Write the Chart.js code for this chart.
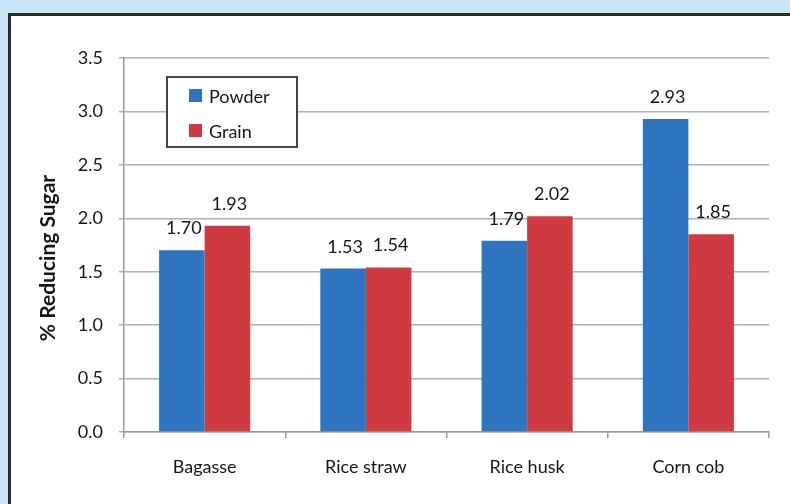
<!DOCTYPE html>
<html>
<head>
<meta charset="utf-8">
<script src="https://cdn.jsdelivr.net/npm/chart.js@4/dist/chart.umd.min.js"></script>
<style>
  html, body { margin: 0; padding: 0; width: 790px; height: 504px; overflow: hidden; background: #c8e6f7; }
  #panel { position: absolute; left: 8px; top: 13px; width: 800px; height: 520px; background: #fff; border: 3px solid #2a2a2a; box-sizing: border-box; }
  #wrap { position: absolute; left: 0; top: 0; width: 790px; height: 504px; }
</style>
</head>
<body>
<div id="panel"></div>
<div id="wrap"><canvas id="c" width="790" height="504"></canvas></div>
<script>
const categories = ["Bagasse", "Rice straw", "Rice husk", "Corn cob"];
const powderValues = [1.70, 1.53, 1.79, 2.93];
const grainValues = [1.93, 1.54, 2.02, 1.85];
const seriesNames = ["Powder", "Grain"];
const yTickValues = [0, 0.5, 1.0, 1.5, 2.0, 2.5, 3.0, 3.5];
const yTitle = "% Reducing Sugar";

const FONT = "Lato, 'Liberation Sans', sans-serif";
const TEXT = "#161616";

const valueLabels = {
  id: "valueLabels",
  afterDatasetsDraw(chart) {
    const ctx = chart.ctx;
    ctx.save();
    ctx.font = "18px " + FONT;
    ctx.fillStyle = TEXT;
    ctx.textAlign = "center";
    ctx.textBaseline = "alphabetic";
    chart.data.datasets.forEach((ds, di) => {
      chart.getDatasetMeta(di).data.forEach((bar, i) => {
        ctx.fillText(ds.data[i].toFixed(2), bar.x + 2, bar.y - 16);
      });
    });
    ctx.restore();
  }
};

const boxLegend = {
  id: "boxLegend",
  afterDraw(chart) {
    const ctx = chart.ctx;
    ctx.save();
    ctx.fillStyle = "#fff";
    ctx.fillRect(167, 77, 130, 70);
    ctx.strokeStyle = "#444";
    ctx.lineWidth = 2;
    ctx.strokeRect(167, 77, 130, 70);
    ctx.font = "18px " + FONT;
    ctx.textBaseline = "middle";
    ctx.textAlign = "left";
    chart.data.datasets.forEach((ds, i) => {
      const cy = 96 + i * 35;
      ctx.fillStyle = ds.backgroundColor;
      ctx.fillRect(189, cy - 7, 13, 13);
      ctx.fillStyle = TEXT;
      ctx.fillText(ds.label, 209, cy + 1);
    });
    // y title
    ctx.translate(48, 258);
    ctx.rotate(-Math.PI / 2);
    ctx.textAlign = "center";
    ctx.textBaseline = "middle";
    ctx.font = "bold 21px " + FONT;
    ctx.fillStyle = TEXT;
    ctx.fillText(yTitle, 0, 0);
    ctx.restore();
  }
};

new Chart(document.getElementById("c"), {
  type: "bar",
  data: {
    labels: categories,
    datasets: [
      { label: seriesNames[0], data: powderValues, backgroundColor: "#2f74bf", borderWidth: 0 },
      { label: seriesNames[1], data: grainValues, backgroundColor: "#cf3a41", borderWidth: 0 }
    ]
  },
  options: {
    responsive: false,
    animation: false,
    layout: { padding: { top: 58, right: 21, left: 0, bottom: 0 } },
    datasets: { bar: { categoryPercentage: 0.565, barPercentage: 1.0 } },
    plugins: { legend: { display: false }, tooltip: { enabled: false } },
    scales: {
      x: {
        afterFit(s) { s.height = 72; },
        grid: { display: true, drawOnChartArea: false, offset: true, color: "#999", lineWidth: 1.5, tickLength: 6 },
        border: { display: true, color: "#999", width: 1.5 },
        ticks: { color: TEXT, font: { family: FONT, size: 18 }, padding: 18 }
      },
      y: {
        min: 0, max: 3.5,
        afterFit(s) { s.width = 124; },
        afterBuildTicks(s) { s.ticks = yTickValues.map(v => ({ value: v })); },
        grid: { color: "#b0b0b0", lineWidth: 1.5, tickLength: 5 },
        border: { display: true, color: "#999", width: 1.5 },
        ticks: { color: TEXT, font: { family: FONT, size: 18 }, padding: 16, callback: v => Number(v).toFixed(1) }
      }
    }
  },
  plugins: [valueLabels, boxLegend]
});
</script>
</body>
</html>
